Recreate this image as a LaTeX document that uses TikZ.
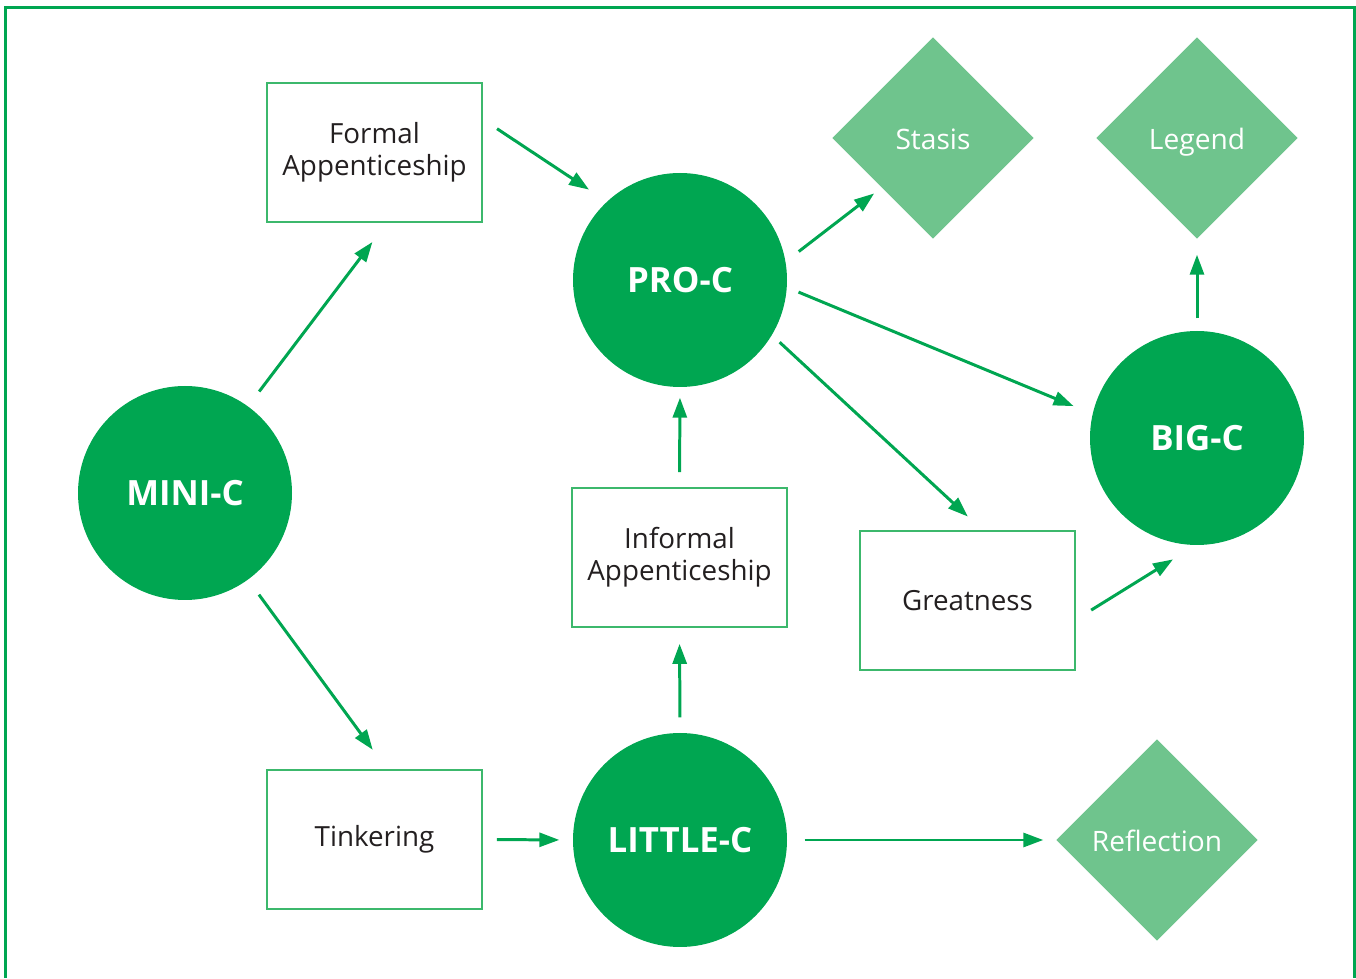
\documentclass[tikz,border=0pt]{standalone}
\usepackage{fontspec}
\setmainfont{Open Sans}
\usetikzlibrary{arrows.meta}
\usetikzlibrary{shapes.geometric}
\tikzset{>={Triangle[length=2mm,width=1.4mm]}}
\definecolor{cgreen}{RGB}{0,166,81}
\definecolor{cdiamond}{RGB}{111,196,141}
\definecolor{cbox}{RGB}{60,184,108}
\definecolor{ctext}{RGB}{35,31,32}
\tikzstyle{level}=[circle,fill=cgreen,text=white,minimum size=2.14cm,inner sep=0pt,font=\fontsize{9.9}{12}\selectfont\bfseries]
\tikzstyle{stage}=[rectangle,draw=cbox,line width=0.5pt,minimum width=2.15cm,minimum height=1.39cm,align=center,text=ctext,font=\fontsize{7.9}{9.2}\selectfont]
\tikzstyle{outcome}=[diamond,fill=cdiamond,text=white,minimum width=2.02cm,minimum height=2.02cm,inner sep=0pt,aspect=1,text height=1.6ex,text depth=0.4ex,font=\fontsize{8}{9.2}\selectfont]
\tikzstyle{link}=[->,draw=cgreen,line width=0.85pt]

\begin{document}
\begin{tikzpicture}
  \useasboundingbox (0,0) rectangle (13.56,9.78);
  \draw[cgreen,line width=1pt] (0.055,0) -- (0.055,9.705) -- (13.545,9.705) -- (13.545,0);

  % the four levels
  \node[level] (mini) at (1.85,4.85) {MINI-C};
  \node[level] (pro) at (6.80,6.98) {PRO-C};
  \node[level] (little) at (6.80,1.38) {LITTLE-C};
  \node[level] (big) at (11.97,5.40) {BIG-C};

  % the stages in between
  \node[stage] (formal) at (3.745,8.255) {Formal\\Appenticeship};
  \node[stage] (informal) at (6.795,4.205) {Informal\\Appenticeship};
  \node[stage] (greatness) at (9.675,3.775) {Greatness};
  \node[stage] (tinkering) at (3.745,1.385) {Tinkering};

  \node[outcome] (stasis) at (9.33,8.40) {Stasis};
  \node[outcome] (legend) at (11.97,8.40) {Legend};
  \node[outcome] (reflection) at (11.57,1.38) {Reflection};

  \draw[link,shorten <=1.8mm,shorten >=2.4mm] (mini.54) -- (formal.-80);
  \draw[link,shorten <=1.8mm,shorten >=2.4mm] (mini.-54) -- (tinkering.80);
  \draw[link,shorten <=1.7mm,shorten >=2.1mm] (formal.17) -- (pro.133);
  \draw[link,shorten <=1.4mm,shorten >=1.3mm] (tinkering.east) -- (little.west);
  \draw[link,shorten <=1.5mm,shorten >=1.6mm] (little.north) -- (informal.south);
  \draw[link,shorten <=1.5mm,shorten >=1mm] (informal.north) -- (pro.south);
  \draw[link,shorten <=1.6mm,shorten >=0.9mm] (pro.10) -- (stasis.224);
  \draw[link,shorten <=1.2mm,shorten >=2mm] (pro.-4) -- (big.167);
  \draw[link,shorten <=1mm,shorten >=2mm] (pro.-31) -- (greatness.78);
  \draw[link,shorten <=1.8mm,shorten >=2.6mm] (greatness.-10) -- (big.269);
  \draw[link,shorten <=1.2mm,shorten >=1.5mm] (big.north) -- (legend.south);
  \draw[link,shorten <=1.7mm,shorten >=1.2mm] (little.east) -- (reflection.west);
\end{tikzpicture}
\end{document}
